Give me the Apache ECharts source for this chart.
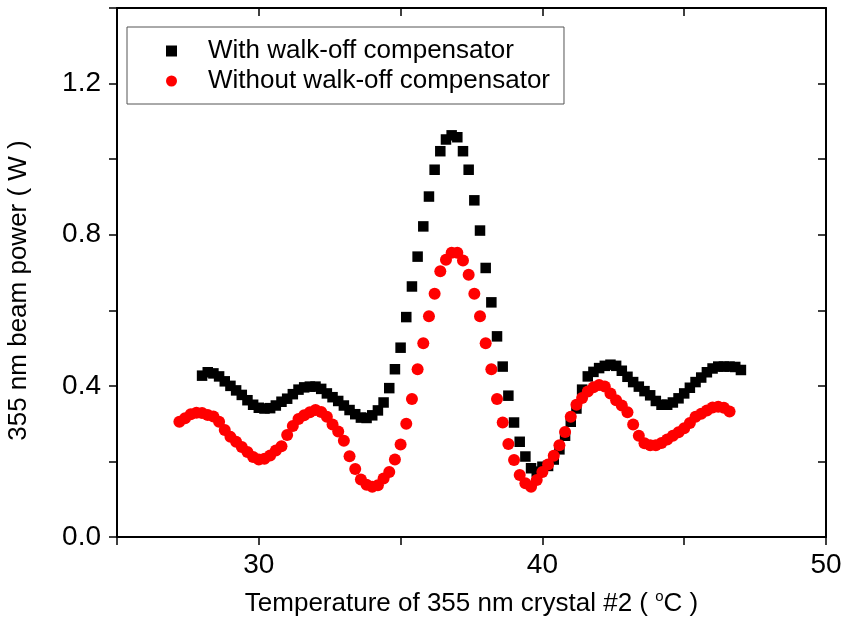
<!DOCTYPE html>
<html>
<head>
<meta charset="utf-8">
<script src="https://cdn.jsdelivr.net/npm/echarts@6/dist/echarts.min.js"></script>
<style>
    html, body { margin: 0; padding: 0; background: #fff; }
    #main { width: 845px; height: 623px; }
</style>
</head>
<body>
<div id="main"></div>
<script>
// temperature (°C) and 355 nm power (W)
const tempBlack = [
    28.0, 28.2, 28.4, 28.6, 28.8, 29.0, 29.2, 29.4, 29.6, 29.8,
    30.0, 30.2, 30.4, 30.6, 30.8, 31.0, 31.2, 31.4, 31.6, 31.8,
    32.0, 32.2, 32.4, 32.6, 32.8, 33.0, 33.2, 33.4, 33.6, 33.8,
    34.0, 34.2, 34.4, 34.6, 34.8, 35.0, 35.2, 35.4, 35.6, 35.8,
    36.0, 36.2, 36.4, 36.6, 36.8, 37.0, 37.2, 37.4, 37.6, 37.8,
    38.0, 38.2, 38.4, 38.6, 38.8, 39.0, 39.2, 39.4, 39.6, 39.8,
    40.0, 40.2, 40.4, 40.6, 40.8, 41.0, 41.2, 41.4, 41.6, 41.8,
    42.0, 42.2, 42.4, 42.6, 42.8, 43.0, 43.2, 43.4, 43.6, 43.8,
    44.0, 44.2, 44.4, 44.6, 44.8, 45.0, 45.2, 45.4, 45.6, 45.8,
    46.0, 46.2, 46.4, 46.6, 46.8, 47.0,
]
const powerBlack = [
    0.427, 0.436, 0.433, 0.425, 0.412, 0.400, 0.388, 0.376, 0.362, 0.350,
    0.342, 0.340, 0.341, 0.348, 0.358, 0.366, 0.378, 0.390, 0.396, 0.398,
    0.398, 0.392, 0.380, 0.370, 0.360, 0.348, 0.336, 0.325, 0.316, 0.315,
    0.322, 0.335, 0.356, 0.394, 0.444, 0.501, 0.582, 0.663, 0.742, 0.822,
    0.901, 0.972, 1.021, 1.052, 1.063, 1.058, 1.021, 0.972, 0.891, 0.811,
    0.712, 0.621, 0.531, 0.451, 0.374, 0.303, 0.252, 0.213, 0.182, 0.173,
    0.186, 0.188, 0.205, 0.232, 0.268, 0.305, 0.340, 0.390, 0.425, 0.437,
    0.447, 0.453, 0.456, 0.453, 0.440, 0.424, 0.410, 0.398, 0.386, 0.375,
    0.360, 0.350, 0.350, 0.356, 0.367, 0.380, 0.395, 0.410, 0.422, 0.436,
    0.446, 0.451, 0.451, 0.451, 0.450, 0.442,
]
const tempRed = [
    27.2, 27.4, 27.6, 27.8,
    28.0, 28.2, 28.4, 28.6, 28.8, 29.0, 29.2, 29.4, 29.6, 29.8,
    30.0, 30.2, 30.4, 30.6, 30.8, 31.0, 31.2, 31.4, 31.6, 31.8,
    32.0, 32.2, 32.4, 32.6, 32.8, 33.0, 33.2, 33.4, 33.6, 33.8,
    34.0, 34.2, 34.4, 34.6, 34.8, 35.0, 35.2, 35.4, 35.6, 35.8,
    36.0, 36.2, 36.4, 36.6, 36.8, 37.0, 37.2, 37.4, 37.6, 37.8,
    38.0, 38.2, 38.4, 38.6, 38.8, 39.0, 39.2, 39.4, 39.6, 39.8,
    40.0, 40.2, 40.4, 40.6, 40.8, 41.0, 41.2, 41.4, 41.6, 41.8,
    42.0, 42.2, 42.4, 42.6, 42.8, 43.0, 43.2, 43.4, 43.6, 43.8,
    44.0, 44.2, 44.4, 44.6, 44.8, 45.0, 45.2, 45.4, 45.6, 45.8,
    46.0, 46.2, 46.4, 46.6,
]
const powerRed = [
    0.305, 0.314, 0.325, 0.329,
    0.328, 0.323, 0.319, 0.305, 0.283, 0.265, 0.252, 0.238, 0.225, 0.212,
    0.205, 0.207, 0.216, 0.229, 0.240, 0.270, 0.294, 0.312, 0.322, 0.330,
    0.336, 0.331, 0.318, 0.298, 0.279, 0.255, 0.214, 0.180, 0.152, 0.138,
    0.133, 0.137, 0.155, 0.172, 0.205, 0.245, 0.300, 0.365, 0.444, 0.513,
    0.584, 0.644, 0.703, 0.734, 0.752, 0.752, 0.732, 0.694, 0.644, 0.584,
    0.513, 0.444, 0.365, 0.303, 0.246, 0.204, 0.164, 0.142, 0.133, 0.151,
    0.172, 0.192, 0.215, 0.243, 0.278, 0.318, 0.350, 0.368, 0.385, 0.396,
    0.402, 0.398, 0.380, 0.362, 0.348, 0.330, 0.298, 0.268, 0.248, 0.243,
    0.243, 0.249, 0.258, 0.268, 0.277, 0.288, 0.302, 0.318, 0.326, 0.335,
    0.343, 0.345, 0.342, 0.332,
]
const seriesNames = ['With walk-off compensator', 'Without walk-off compensator']

const font = 'Liberation Sans, Arial, sans-serif'
const pairs = (xs, ys) => xs.map((x, i) => [x, ys[i]])

const chart = echarts.init(document.getElementById('main'))

// the frame: every axis draws its line, ticks point out on bottom/left and in on top/right
const frameLine = { show: true, onZero: false, lineStyle: { color: '#000', width: 2 } }
const tick = (inside) => ({ show: true, inside: inside, length: 8, lineStyle: { color: '#000', width: 1.5 } })

chart.setOption({
    animation: false,
    grid: {
        left: 117,
        right: 19,
        top: 8,
        bottom: 86,
        outerBoundsMode: 'none',
    },
    legend: {
        orient: 'vertical',
        left: 127,
        top: 27,
        data: [
            { name: seriesNames[0], icon: 'rect' },
            { name: seriesNames[1], icon: 'circle' },
        ],
        itemWidth: 11,
        itemHeight: 11,
        itemGap: 4,
        padding: [11, 14, 10, 39],
        borderColor: '#555',
        borderWidth: 1,
        textStyle: {
            fontFamily: font,
            fontSize: 26,
            lineHeight: 26,
            color: '#000',
            padding: [0, 0, 0, 26],
        },
    },
    xAxis: [
        {
            type: 'value',
            min: 25,
            max: 50,
            interval: 5,
            name: 'Temperature of 355 nm crystal #2 ( {sup|o}C )',
            nameLocation: 'middle',
            nameGap: 52,
            nameTextStyle: {
                fontFamily: font,
                fontSize: 26,
                lineHeight: 30,
                color: '#000',
                rich: {
                    sup: { fontFamily: font, fontSize: 15, lineHeight: 8, verticalAlign: 'top' },
                },
            },
            axisLine: frameLine,
            axisTick: tick(false),
            axisLabel: {
                margin: 14,
                fontFamily: font,
                fontSize: 28,
                color: '#000',
                formatter: (v) => (v % 10 === 0 && v > 25 ? String(v) : ''),
            },
            splitLine: { show: false },
        },
        {
            type: 'value',
            position: 'top',
            min: 25,
            max: 50,
            interval: 5,
            axisLine: frameLine,
            axisTick: tick(true),
            axisLabel: { show: false },
            splitLine: { show: false },
        },
    ],
    yAxis: [
        {
            type: 'value',
            min: 0,
            max: 1.4,
            interval: 0.2,
            name: '355 nm beam power ( W )',
            nameLocation: 'middle',
            nameGap: 85,
            nameTextStyle: {
                fontFamily: font,
                fontSize: 26,
                color: '#000',
                padding: [0, 36, 0, 0],
            },
            axisLine: frameLine,
            axisTick: tick(false),
            axisLabel: {
                margin: 16,
                fontFamily: font,
                fontSize: 28,
                color: '#000',
                formatter: (v) => (Math.round(v * 10) % 4 === 0 ? v.toFixed(1) : ''),
            },
            splitLine: { show: false },
        },
        {
            type: 'value',
            position: 'right',
            min: 0,
            max: 1.4,
            interval: 0.2,
            axisLine: frameLine,
            axisTick: tick(true),
            axisLabel: { show: false },
            splitLine: { show: false },
        },
    ],
    series: [
        {
            name: seriesNames[0],
            type: 'scatter',
            symbol: 'rect',
            symbolSize: 10.5,
            itemStyle: { color: '#000', opacity: 1 },
            data: pairs(tempBlack, powerBlack),
        },
        {
            name: seriesNames[1],
            type: 'scatter',
            symbol: 'circle',
            symbolSize: 12,
            itemStyle: { color: '#ff0000', opacity: 1 },
            data: pairs(tempRed, powerRed),
        },
    ],
})
</script>
</body>
</html>
